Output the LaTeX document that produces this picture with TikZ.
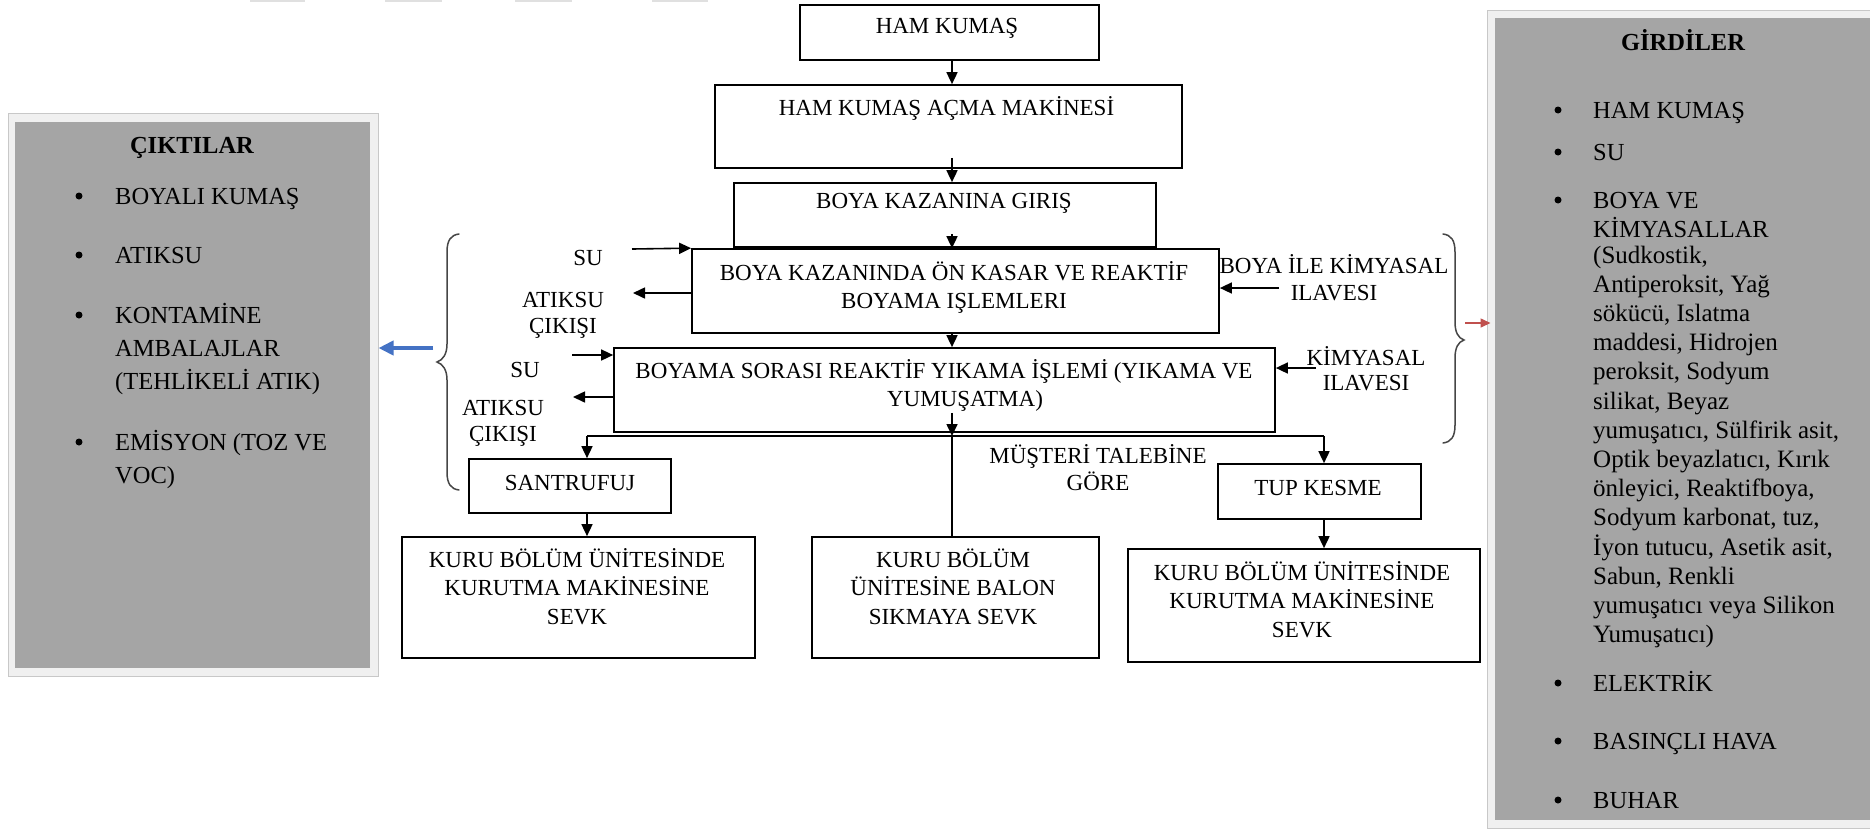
\documentclass[tikz,border=0pt]{standalone}
\usepackage{fontspec}
\setmainfont{Liberation Serif}
\usetikzlibrary{arrows.meta,calc}
\definecolor{panelgray}{RGB}{165,165,165}
\definecolor{framegray}{RGB}{240,240,240}
\definecolor{shadowgray}{RGB}{200,200,200}
\definecolor{arrowblue}{RGB}{68,114,196}
\definecolor{arrowred}{RGB}{192,80,77}
\definecolor{bracegray}{RGB}{70,70,70}
\newcommand\flowfont{\fontsize{23}{28.5}\selectfont}
\newcommand\panelfont{\fontsize{24.5}{33}\selectfont}
\newcommand\chemfont{\fontsize{25}{29.2}\selectfont}
\begin{document}
\begin{tikzpicture}[x=1pt,y=-1pt,
  box/.style={draw=black, line width=1.7pt, inner sep=0pt, fill=white},
  ftext/.style={font=\flowfont, align=center, inner sep=0pt, anchor=base},
  ltext/.style={font=\fontsize{23}{26}\selectfont, align=center, inner sep=0pt, anchor=base},
  ptext/.style={font=\panelfont, align=left, inner sep=0pt, anchor=base west},
  ptitle/.style={font=\panelfont\bfseries, inner sep=0pt, anchor=base},
  chem/.style={font=\chemfont, align=left, inner sep=0pt, anchor=base west},
  frame/.style={fill=framegray, draw=shadowgray, line width=1pt, inner sep=0pt},
  panel/.style={fill=panelgray, draw=none, inner sep=0pt},
  bullet/.style={circle, fill=black, inner sep=0pt, minimum size=7pt},
  arr/.style={line width=1.6pt, -{Triangle[length=12pt,width=11pt]}},
  plain/.style={line width=1.6pt},
  brace/.style={draw=bracegray, line width=1.5pt, line cap=round},
  bluearr/.style={draw=arrowblue, line width=4.5pt, -{Triangle[length=15pt,width=14pt]}},
  redarr/.style={draw=arrowred, line width=1.5pt, -{Triangle[length=10pt,width=9pt]}},
  faint/.style={fill=black!12, draw=none}
]
\useasboundingbox (0,0) rectangle (1870,831);
\fill[white] (0,0) rectangle (1870,831);

% faint top marks
\fill[faint] (250,0) rectangle (305,2);
\fill[faint] (385,0) rectangle (442,2);
\fill[faint] (515,0) rectangle (572,2);
\fill[faint] (652,0) rectangle (708,2);

% ---- panels ----
\node[frame, minimum width=370pt, minimum height=563pt] (outfr) at (193,394.5) {};
\node[panel, minimum width=355pt, minimum height=546pt] (outp) at (192.5,395) {};
\node[frame, minimum width=393pt, minimum height=818pt] (infr) at (1683.5,419) {};
\node[panel, minimum width=385pt, minimum height=802pt] (inp) at (1687.5,419) {};

% left panel text (multi-line nodes are placed by the baseline of their last line)
\node[ptitle] (outtitle) at (192,153) {ÇIKTILAR};
\node[bullet] (ob1) at (79,196) {};
\node[ptext] (o1) at (115,204) {BOYALI KUMAŞ};
\node[bullet] (ob2) at (79,255) {};
\node[ptext] (o2) at (115,263) {ATIKSU};
\node[bullet] (ob3) at (79,315) {};
\node[ptext] (o3) at (115,389) {KONTAMİNE\\AMBALAJLAR\\(TEHLİKELİ ATIK)};
\node[bullet] (ob4) at (79,442) {};
\node[ptext] (o4) at (115,483) {EMİSYON (TOZ VE\\VOC)};

% right panel text
\node[ptitle] (intitle) at (1683,50) {GİRDİLER};
\node[bullet] (ib1) at (1558,110) {};
\node[ptext] (i1) at (1593,118) {HAM KUMAŞ};
\node[bullet] (ib2) at (1558,152) {};
\node[ptext] (i2) at (1593,160) {SU};
\node[bullet] (ib3) at (1558,200) {};
\node[ptext, font=\fontsize{24.5}{29}\selectfont] (i3) at (1593,237) {BOYA VE\\KİMYASALLAR};
\node[chem] (i3b) at (1593,642.6) {(Sudkostik,\\Antiperoksit, Yağ\\sökücü, Islatma\\maddesi, Hidrojen\\peroksit, Sodyum\\silikat, Beyaz\\yumuşatıcı, Sülfirik asit,\\Optik beyazlatıcı, Kırık\\önleyici, Reaktifboya,\\Sodyum karbonat, tuz,\\İyon tutucu, Asetik asit,\\Sabun, Renkli\\yumuşatıcı veya Silikon\\Yumuşatıcı)};
\node[bullet] (ib4) at (1558,683) {};
\node[ptext] (i4) at (1593,691) {ELEKTRİK};
\node[bullet] (ib5) at (1558,741) {};
\node[ptext] (i5) at (1593,749) {BASINÇLI HAVA};
\node[bullet] (ib6) at (1558,800) {};
\node[ptext] (i6) at (1593,808) {BUHAR};

% ---- flow boxes ----
\node[box, minimum width=299pt, minimum height=55pt] (hk) at (949.5,32.5) {};
\node[box, minimum width=467pt, minimum height=83pt] (acma) at (948.5,126.5) {};
\node[box, minimum width=422pt, minimum height=64pt] (giris) at (945,215) {};
\node[box, minimum width=527pt, minimum height=84pt] (on) at (955.5,291) {};
\node[box, minimum width=661pt, minimum height=84pt] (yik) at (944.5,390) {};
\node[box, minimum width=202pt, minimum height=54pt] (sant) at (570,486) {};
\node[box, minimum width=203pt, minimum height=55pt] (tup) at (1319.5,491.5) {};
\node[box, minimum width=353pt, minimum height=121pt] (kuru1) at (578.5,597.5) {};
\node[box, minimum width=287pt, minimum height=121pt] (balon) at (955.5,597.5) {};
\node[box, minimum width=352pt, minimum height=113pt] (kuru2) at (1304,605.5) {};

% ---- coordinates ----
\coordinate (mx) at (952,0);
\coordinate (jL) at (587,436);
\coordinate (jM) at (952,436);
\coordinate (jR) at (1324,436);
\coordinate (s1) at (632,249);
\coordinate (a1) at (633,293);
\coordinate (s2) at (572,355);
\coordinate (a2) at (573,397);
\coordinate (b1) at (1279,288);
\coordinate (k1) at (1316,368);
\coordinate (bl) at (433,348);
\coordinate (rl) at (1465,323);

% ---- connectors ----
\draw[arr] (hk.south -| mx) -- (acma.north -| mx);
\draw[arr] ([yshift=11pt]acma.south -| mx) -- (giris.north -| mx);
\draw[arr] ([yshift=14pt]giris.south -| mx) -- (on.north -| mx);
\draw[arr] (on.south -| mx) -- (yik.north -| mx);
\draw[arr] ([yshift=20pt]yik.south -| mx) -- (jM);
\draw[plain] (jL) -- (jR);
\draw[arr] (jL) -- (sant.north -| jL);
\draw[plain] (jM) -- (balon.north -| jM);
\draw[arr] (jR) -- (tup.north -| jR);
\draw[arr] (sant.south -| jL) -- (kuru1.north -| jL);
\draw[arr] (tup.south -| jR) -- (kuru2.north -| jR);

\draw[arr] (s1) -- (on.north west);
\draw[arr] (a1 -| on.west) -- (a1);
\draw[arr] (s2) -- (s2 -| yik.west);
\draw[arr] (a2 -| yik.west) -- (a2);
\draw[arr] (b1) -- (b1 -| on.east);
\draw[arr] (k1) -- (k1 -| yik.east);

% ---- flow texts ----
\node[ftext] (hk-t) at (947,33) {HAM KUMAŞ};
\node[ftext] (acma-t) at (946.5,115) {HAM KUMAŞ AÇMA MAKİNESİ};
\node[ftext] (giris-t) at (944,208) {BOYA KAZANINA GIRIŞ};
\node[ftext] (on-t) at (954,308.5) {BOYA KAZANINDA ÖN KASAR VE REAKTİF\\BOYAMA IŞLEMLERI};
\node[ftext] (yik-t) at (944,406.5) {BOYAMA SORASI REAKTİF YIKAMA İŞLEMİ (YIKAMA VE\\\hspace*{42pt}YUMUŞATMA)};
\node[ftext] (sant-t) at (570,490) {SANTRUFUJ};
\node[ftext] (tup-t) at (1318,495) {TUP KESME};
\node[ftext] (kuru1-t) at (577,624) {KURU BÖLÜM ÜNİTESİNDE\\KURUTMA MAKİNESİNE\\SEVK};
\node[ftext] (balon-t) at (953,624) {KURU BÖLÜM\\ÜNİTESİNE BALON\\SIKMAYA SEVK};
\node[ftext] (kuru2-t) at (1302,637) {KURU BÖLÜM ÜNİTESİNDE\\KURUTMA MAKİNESİNE\\SEVK};

% ---- side labels ----
\node[ltext] (su1) at (588,265) {SU};
\node[ltext] (atik1) at (563,333) {ATIKSU\\ÇIKIŞI};
\node[ltext] (su2) at (525,377) {SU};
\node[ltext] (atik2) at (503,441) {ATIKSU\\ÇIKIŞI};
\node[ltext, font=\fontsize{23}{27}\selectfont] (boyaile) at (1334,300) {BOYA İLE KİMYASAL\\ILAVESI};
\node[ltext, font=\fontsize{23}{25}\selectfont] (kimy) at (1366,390) {KİMYASAL\\ILAVESI};
\node[ltext, font=\fontsize{23}{27}\selectfont] (must) at (1098,490) {MÜŞTERİ TALEBİNE\\GÖRE};

% ---- braces ----
\draw[brace] (459,234) .. controls (451,235) and (447,240) .. (447,252) -- (447,344)
  .. controls (447,354) and (443,360) .. (437,362) .. controls (443,364) and (447,370) .. (447,380)
  -- (447,472) .. controls (447,484) and (451,489) .. (459,490);
\draw[brace] (1443,234) .. controls (1451,235) and (1455,240) .. (1455,252) -- (1455,322)
  .. controls (1455,332) and (1458,338) .. (1464,340) .. controls (1458,342) and (1455,348) .. (1455,358)
  -- (1455,425) .. controls (1455,437) and (1451,442) .. (1443,443);

% ---- panel arrows ----
\draw[bluearr] (bl) -- (bl -| outfr.east);
\draw[redarr] (rl) -- ([xshift=4pt]rl -| infr.west);
\end{tikzpicture}
\end{document}
